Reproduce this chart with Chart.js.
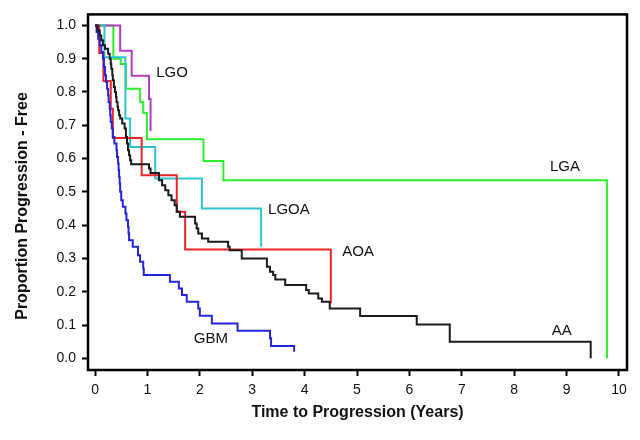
<!DOCTYPE html>
<html>
<head>
<meta charset="utf-8">
<script src="https://cdn.jsdelivr.net/npm/chart.js@4/dist/chart.umd.min.js"></script>
<style>
  html, body { margin: 0; padding: 0; background: #fff; }
  #wrap { width: 640px; height: 440px; }
</style>
</head>
<body>
<div id="wrap"><canvas id="kmChart"></canvas></div>
<script>
// ticks
const xTicks = [0, 1, 2, 3, 4, 5, 6, 7, 8, 9, 10];
const yTicks = [0, 0.1, 0.2, 0.3, 0.4, 0.5, 0.6, 0.7, 0.8, 0.9, 1.0];

// AA (black)
const aaTime = [0, 0.05, 0.09, 0.12, 0.15, 0.19, 0.25, 0.28, 0.30, 0.31, 0.33, 0.34, 0.36, 0.38, 0.40, 0.41, 0.43, 0.44, 0.46, 0.48, 0.52, 0.565, 0.59, 0.61, 0.63, 0.65, 0.67, 0.69, 1.03, 1.06, 1.22, 1.28, 1.34, 1.40, 1.46, 1.52, 1.56, 1.62, 1.91, 1.94, 1.97, 2.04, 2.16, 2.54, 2.57, 2.80, 3.28, 3.34, 3.40, 3.44, 3.63, 4.03, 4.08, 4.26, 4.33, 4.48, 5.06, 6.14, 6.77, 9.46, 9.46];
const aaSurv = [1.0, 0.985, 0.97, 0.955, 0.94, 0.93, 0.915, 0.90, 0.885, 0.87, 0.85, 0.835, 0.815, 0.80, 0.785, 0.77, 0.755, 0.745, 0.73, 0.72, 0.705, 0.69, 0.665, 0.645, 0.625, 0.61, 0.595, 0.583, 0.57, 0.557, 0.535, 0.52, 0.505, 0.49, 0.475, 0.46, 0.44, 0.425, 0.405, 0.39, 0.375, 0.36, 0.35, 0.335, 0.325, 0.30, 0.275, 0.26, 0.25, 0.237, 0.22, 0.205, 0.195, 0.18, 0.17, 0.15, 0.127, 0.102, 0.05, 0.05, 0.0];

// GBM (blue)
const gbmTime = [0, 0.03, 0.06, 0.09, 0.12, 0.15, 0.17, 0.19, 0.21, 0.23, 0.25, 0.26, 0.28, 0.29, 0.30, 0.32, 0.34, 0.37, 0.41, 0.42, 0.44, 0.45, 0.46, 0.47, 0.48, 0.50, 0.53, 0.58, 0.60, 0.63, 0.64, 0.65, 0.72, 0.82, 0.86, 0.92, 0.93, 1.43, 1.60, 1.66, 1.75, 1.97, 2.00, 2.23, 2.72, 3.34, 3.36, 3.80, 3.80];
const gbmSurv = [1.0, 0.98, 0.96, 0.94, 0.92, 0.90, 0.875, 0.85, 0.83, 0.81, 0.79, 0.77, 0.75, 0.73, 0.71, 0.69, 0.665, 0.645, 0.625, 0.605, 0.585, 0.565, 0.545, 0.525, 0.50, 0.475, 0.455, 0.435, 0.415, 0.395, 0.375, 0.355, 0.335, 0.31, 0.29, 0.27, 0.25, 0.23, 0.21, 0.19, 0.17, 0.15, 0.128, 0.105, 0.083, 0.06, 0.037, 0.037, 0.02];

// AOA (red)
const aoaTime = [0, 0.08, 0.16, 0.30, 0.34, 0.89, 1.56, 1.72, 4.50, 4.50];
const aoaSurv = [1.0, 0.917, 0.833, 0.75, 0.662, 0.55, 0.44, 0.327, 0.327, 0.165];

// LGOA (cyan)
const lgoaTime = [0, 0.18, 0.58, 0.67, 1.15, 2.04, 3.17, 3.17];
const lgoaSurv = [1.0, 0.904, 0.72, 0.635, 0.54, 0.45, 0.45, 0.335];

// LGO (magenta)
const lgoTime = [0, 0.48, 0.70, 1.03, 1.06, 1.06];
const lgoSurv = [1.0, 0.924, 0.849, 0.779, 0.779, 0.683];

// LGA (green)
const lgaTime = [0, 0.35, 0.49, 0.59, 0.86, 0.92, 0.99, 2.07, 2.45, 9.77, 9.77];
const lgaSurv = [1.0, 0.90, 0.884, 0.81, 0.77, 0.737, 0.658, 0.593, 0.535, 0.535, 0.0];

// curve labels (data coords)
const labelNames = ["LGO", "LGA", "LGOA", "AOA", "GBM", "AA"];
const labelX = [1.47, 8.97, 3.70, 5.02, 2.21, 8.91];
const labelY = [0.858, 0.575, 0.446, 0.319, 0.059, 0.082];

function pts(t, s) {
  return t.map((v, i) => ({ x: v, y: s[i] }));
}

function series(label, t, s, color) {
  return {
    label: label,
    data: pts(t, s),
    borderColor: color,
    borderWidth: 2,
    pointRadius: 0,
    stepped: true,
    fill: false,
    tension: 0,
  };
}

const FONT = "Arial, 'Liberation Sans', sans-serif";

const framePlugin = {
  id: "frame",
  afterDraw(chart) {
    const { ctx, chartArea: a, scales } = chart;
    ctx.save();
    // box round the plot
    ctx.strokeStyle = "#000";
    ctx.lineWidth = 2.5;
    ctx.strokeRect(a.left, a.top, a.right - a.left, a.bottom - a.top);

    // curve names
    ctx.fillStyle = "#111";
    ctx.font = "15px " + FONT;
    ctx.textAlign = "center";
    ctx.textBaseline = "middle";
    labelNames.forEach((n, i) => {
      ctx.fillText(n, scales.x.getPixelForValue(labelX[i]), scales.y.getPixelForValue(labelY[i]));
    });

    // y axis title
    ctx.font = "bold 16px " + FONT;
    ctx.translate(23, 206);
    ctx.rotate(-Math.PI / 2);
    ctx.fillText("Proportion Progression - Free", 0, 0);
    ctx.restore();
  },
};

new Chart(document.getElementById("kmChart"), {
  type: "line",
  data: {
    datasets: [
      series("AA", aaTime, aaSurv, "#1a1a1a"),
      series("GBM", gbmTime, gbmSurv, "#2424d8"),
      series("AOA", aoaTime, aoaSurv, "#ee2424"),
      series("LGOA", lgoaTime, lgoaSurv, "#2cc4d0"),
      series("LGO", lgoTime, lgoSurv, "#b23cc0"),
      series("LGA", lgaTime, lgaSurv, "#2cf02c"),
    ],
  },
  options: {
    responsive: true,
    maintainAspectRatio: false,
    animation: false,
    layout: { padding: { left: 0, top: 14, right: 13, bottom: 16 } },
    plugins: {
      legend: { display: false },
      tooltip: { enabled: false },
    },
    scales: {
      x: {
        type: "linear",
        min: -0.134,
        max: 10.153,
        afterBuildTicks: (s) => { s.ticks = xTicks.map((v) => ({ value: v })); },
        afterFit: (s) => { s.height = 54; },
        border: { display: false },
        grid: { drawOnChartArea: false, drawTicks: true, tickLength: 6, tickWidth: 2, tickColor: "#000" },
        ticks: { color: "#111", font: { size: 14, family: FONT }, padding: 6, maxRotation: 0, autoSkip: false },
        title: {
          display: true,
          text: "Time to Progression (Years)",
          color: "#111",
          font: { size: 16, weight: "bold", family: FONT },
          padding: { top: 4, bottom: 2 },
        },
      },
      y: {
        type: "linear",
        min: -0.035,
        max: 1.033,
        afterBuildTicks: (s) => { s.ticks = yTicks.map((v) => ({ value: v })); },
        afterFit: (s) => { s.width = 88; },
        border: { display: false },
        grid: { drawOnChartArea: false, drawTicks: true, tickLength: 6, tickWidth: 2, tickColor: "#000" },
        ticks: {
          color: "#111",
          font: { size: 14, family: FONT },
          padding: 6,
          autoSkip: false,
          callback: (v) => Number(v).toFixed(1),
        },
      },
    },
  },
  plugins: [framePlugin],
});
</script>
</body>
</html>
